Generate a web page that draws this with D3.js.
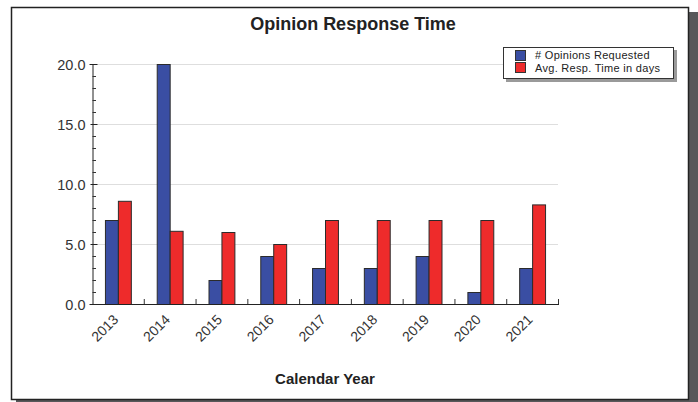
<!DOCTYPE html>
<html><head><meta charset="utf-8">
<script src="https://cdn.jsdelivr.net/npm/d3@7"></script>
<style>body{margin:0;background:#fff}svg{display:block}</style>
</head><body>
<svg id="c" width="698" height="402"></svg>
<script>
const years = ["2013","2014","2015","2016","2017","2018","2019","2020","2021"];
const opinionsRequested = [7, 20, 2, 4, 3, 3, 4, 1, 3];
const avgRespDays = [8.6, 6.1, 6.0, 5.0, 7.0, 7.0, 7.0, 7.0, 8.3];
const seriesNames = ["# Opinions Requested", "Avg. Resp. Time in days"];
const seriesColors = ["#3a4ea3", "#ee2b2b"];
const yTicks = [0, 5, 10, 15, 20];

const svg = d3.select("#c");
const font = "'Liberation Sans', Arial, sans-serif";

// frame + shadow
svg.append("rect").attr("x",689).attr("y",12).attr("width",9).attr("height",390).attr("fill","#58585a");
svg.append("rect").attr("x",16).attr("y",400).attr("width",682).attr("height",2).attr("fill","#58585a");
svg.append("rect").attr("x",11.5).attr("y",7.5).attr("width",677).attr("height",392)
  .attr("fill","#fff").attr("stroke","#222").attr("stroke-width",1.5);

const L = 92, R = 558, T = 64, B = 304;
const x0 = d3.scaleBand().domain(years).range([L, R]).padding(0);
const x1 = d3.scaleBand().domain([0,1]).range([x0.bandwidth()*0.25, x0.bandwidth()*0.75]).padding(0);
const y = d3.scaleLinear().domain([0, 20]).range([B, T]);

// gridlines
svg.append("g").selectAll("line").data(yTicks.filter(d=>d>0)).join("line")
  .attr("x1",L).attr("x2",R).attr("y1",d=>y(d)+0.5).attr("y2",d=>y(d)+0.5)
  .attr("stroke","#dedede").attr("stroke-width",1);

// bars
const data = years.map((yr,i)=>({yr, vals:[opinionsRequested[i], avgRespDays[i]]}));
const g = svg.append("g").selectAll("g").data(data).join("g")
  .attr("transform", d=>`translate(${x0(d.yr)},0)`);
g.selectAll("rect").data(d=>d.vals.map((v,k)=>({v,k}))).join("rect")
  .attr("x", d=>x1(d.k)+0.5).attr("width", x1.bandwidth())
  .attr("y", d=>y(d.v)+0.5).attr("height", d=>y(0)-y(d.v))
  .attr("fill", d=>seriesColors[d.k]).attr("stroke","#2b2b2b").attr("stroke-width",1);

// y axis
const yAxis = d3.axisLeft(y).tickValues(yTicks).tickFormat(d3.format(".1f")).tickSize(3).tickPadding(4);
const ya = svg.append("g").attr("transform",`translate(${L+0.5},0)`).call(yAxis);
ya.select(".domain").attr("stroke","#222");
ya.selectAll(".tick line").attr("stroke","#222").attr("x2",-2).attr("x1",5);
ya.selectAll(".tick text").attr("font-family",font).attr("font-size",14.5).attr("fill","#333").attr("dy","0.35em");
// minor ticks
const minor = d3.range(0,21).filter(d=>d%5!==0);
svg.append("g").selectAll("line").data(minor).join("line")
  .attr("x1",L+0.5).attr("x2",L+4).attr("y1",d=>y(d)+0.5).attr("y2",d=>y(d)+0.5)
  .attr("stroke","#333").attr("stroke-width",1);

// x axis
svg.append("line").attr("x1",L).attr("x2",R+1).attr("y1",B+0.5).attr("y2",B+0.5).attr("stroke","#222");
const bounds = years.slice(1).map(d=>x0(d)).concat([R]);
svg.append("g").selectAll("line").data(bounds).join("line")
  .attr("x1",d=>d+0.5).attr("x2",d=>d+0.5).attr("y1",B).attr("y2",B-5)
  .attr("stroke","#333");
svg.append("g").selectAll("text").data(years).join("text")
  .attr("transform", d=>`translate(${x0(d)+x0.bandwidth()/2-2},${B+13}) rotate(-45)`)
  .attr("text-anchor","end").attr("dy","0.35em")
  .attr("font-family",font).attr("font-size",14).attr("fill","#333").text(d=>d);

// titles
svg.append("text").attr("x",353).attr("y",30).attr("text-anchor","middle")
  .attr("font-family",font).attr("font-weight","bold").attr("font-size",18).attr("fill","#222")
  .text("Opinion Response Time");
svg.append("text").attr("x",(L+R)/2).attr("y",384).attr("text-anchor","middle")
  .attr("font-family",font).attr("font-weight","bold").attr("font-size",15).attr("fill","#222")
  .text("Calendar Year");

// legend
const lg = svg.append("g");
lg.append("rect").attr("x",506).attr("y",50).attr("width",171).attr("height",32).attr("fill","#9a9a9a");
lg.append("rect").attr("x",503.5).attr("y",47.5).attr("width",170).attr("height",31)
  .attr("fill","#fff").attr("stroke","#333").attr("stroke-width",1);
seriesNames.forEach((n,i)=>{
  lg.append("rect").attr("x",515.5).attr("y",50.5+i*12).attr("width",10).attr("height",10)
    .attr("fill",seriesColors[i]).attr("stroke","#333").attr("stroke-width",1);
  lg.append("text").attr("x",535).attr("y",59+i*12.6)
    .attr("font-family",font).attr("font-size",11).attr("fill","#222").attr("letter-spacing",0.3).text(n);
});
</script>
</body></html>
